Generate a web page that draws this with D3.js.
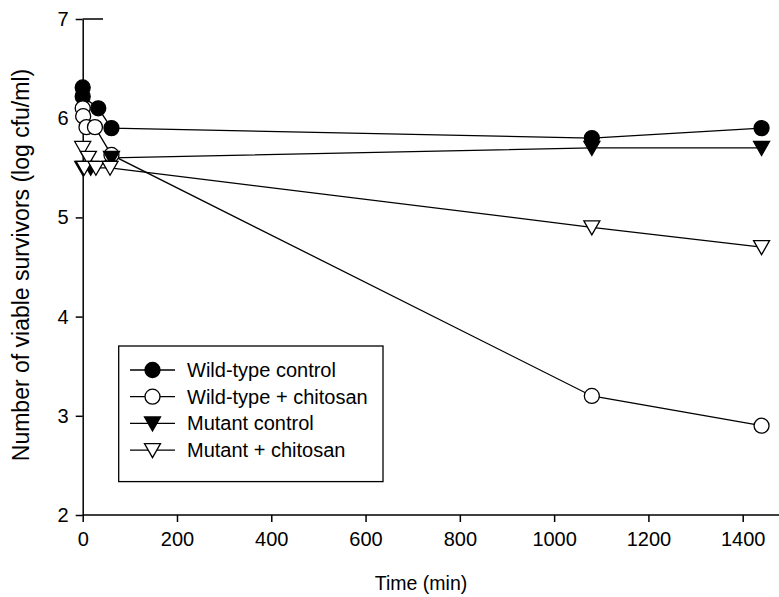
<!DOCTYPE html>
<html><head><meta charset="utf-8">
<script src="https://cdn.jsdelivr.net/npm/d3@7"></script>
<style>body{margin:0;background:#fff}svg{display:block;font-family:"Liberation Sans",Arial,sans-serif}</style>
</head><body><svg id="c" width="779" height="597"></svg>
<script>
const xTicks = [0,200,400,600,800,1000,1200,1400];
const yTicks = [2,3,4,5,6,7];
const seriesNames = ["Wild-type control","Wild-type + chitosan","Mutant control","Mutant + chitosan"];
const wtControl = [[0,6.31],[0,6.22],[33,6.1],[61,5.9],[1080,5.8],[1440,5.9]];
const wtChitosan = [[0,6.1],[1,6.02],[8,5.91],[26,5.91],[61,5.63],[1080,3.2],[1440,2.9]];
const mutControl = [[0,5.5],[17,5.5],[61,5.6],[1080,5.7],[1440,5.7]];
const mutChitosan = [[0,5.7],[12,5.6],[3,5.5],[28,5.5],[58,5.5],[1080,4.9],[1440,4.7]];

const svg = d3.select("#c");
const x = d3.scaleLinear().domain([0,1400]).range([82.7,742.7]);
const y = d3.scaleLinear().domain([2,7]).range([515,19]);

const xAx = svg.append("g").attr("transform","translate(0,515)")
  .call(d3.axisBottom(x).tickValues(xTicks).tickFormat(d=>String(d)).tickSize(7).tickPadding(10).tickSizeOuter(0));
xAx.select(".domain").attr("d","M82.7,0H779");
const yAx = svg.append("g").attr("transform","translate(82.7,0)")
  .call(d3.axisLeft(y).tickValues(yTicks).tickFormat(d=>String(d)).tickSize(7).tickPadding(7).tickSizeOuter(0));
[xAx,yAx].forEach(g=>{
  g.selectAll("path,line").attr("stroke","#000").attr("stroke-width",1.5);
  g.selectAll("text").attr("font-size",20).attr("fill","#000").attr("font-family","Liberation Sans, Arial, sans-serif");
});
svg.append("line").attr("x1",82.7).attr("x2",103).attr("y1",y(7)).attr("y2",y(7)).attr("stroke","#000").attr("stroke-width",1.5);

svg.append("text").attr("x",421).attr("y",590).attr("text-anchor","middle").attr("font-size",19.5).text("Time (min)");
svg.append("text").attr("transform","translate(29,265) rotate(-90)").attr("text-anchor","middle").attr("font-size",23).text("Number of viable survivors (log cfu/ml)");

const line = d3.line().x(d=>x(d[0])).y(d=>y(d[1]));
const triPath = "M-8,-6.5L8,-6.5L0,7.5Z";
const styles = [
  {data:wtControl, shape:"circle", fill:"#000"},
  {data:wtChitosan, shape:"circle", fill:"#fff"},
  {data:mutControl, shape:"tri", fill:"#000"},
  {data:mutChitosan, shape:"tri", fill:"#fff"}
];
function marker(g, s){
  if(s.shape==="circle") g.append("circle").attr("r",7.5).attr("fill",s.fill).attr("stroke","#000").attr("stroke-width",1.3);
  else g.append("path").attr("d",triPath).attr("fill",s.fill).attr("stroke","#000").attr("stroke-width",1.3);
}
styles.forEach(s=>{
  svg.append("path").attr("d",line(s.data)).attr("fill","none").attr("stroke","#000").attr("stroke-width",1.3);
});
styles.forEach(s=>{
  s.data.forEach(d=>{
    const g = svg.append("g").attr("transform",`translate(${x(d[0])},${y(d[1])})`);
    marker(g,s);
  });
});

const lg = svg.append("g");
lg.append("rect").attr("x",118.7).attr("y",346).attr("width",264.3).attr("height",135.6).attr("fill","#fff").attr("stroke","#000").attr("stroke-width",1.3);
seriesNames.forEach((n,i)=>{
  const yy = 370 + i*26.7;
  lg.append("line").attr("x1",130).attr("x2",175).attr("y1",yy).attr("y2",yy).attr("stroke","#000").attr("stroke-width",1.3);
  const g = lg.append("g").attr("transform",`translate(152.5,${yy})`);
  marker(g, styles[i]);
  lg.append("text").attr("x",187).attr("y",yy+7).attr("font-size",20).text(n);
});
</script></body></html>
